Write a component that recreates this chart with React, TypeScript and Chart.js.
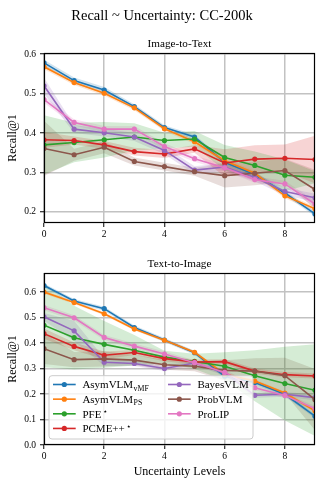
import React, { useEffect, useRef } from "react";
import { Chart, registerables } from "chart.js";

Chart.register(...registerables);

// ---------------- data ----------------
const levels = [0, 1, 2, 3, 4, 5, 6, 7, 8, 9];
const xTickValues = [0, 2, 4, 6, 8];
const i2tYTicks = [0.2, 0.3, 0.4, 0.5, 0.6];
const t2iYTicks = [0, 0.1, 0.2, 0.3, 0.4, 0.5, 0.6];

const mainTitle = "Recall ~ Uncertainty: CC-200k";
const i2tTitle = "Image-to-Text";
const t2iTitle = "Text-to-Image";
const yLabel = "Recall@1";
const xLabel = "Uncertainty Levels";

const legendMain = ["AsymVLM", "AsymVLM", "PFE", "PCME++", "BayesVLM", "ProbVLM", "ProLIP"];
const legendSub = ["vMF", "PS", "", "", "", "", ""];
const legendSup = ["", "", "\u22C6", "\u22C6", "", "", ""];
const colors = ["#1f77b4", "#ff7f0e", "#2ca02c", "#d62728", "#9467bd", "#8c564b", "#e377c2"];

// Image-to-Text means
const i2tAsymVmf = [0.578, 0.533, 0.509, 0.467, 0.414, 0.39, 0.326, 0.295, 0.248, 0.195];
const i2tAsymPs = [0.568, 0.528, 0.501, 0.464, 0.411, 0.378, 0.33, 0.298, 0.241, 0.208];
const i2tPfe = [0.37, 0.376, 0.383, 0.39, 0.381, 0.385, 0.338, 0.318, 0.293, 0.288];
const i2tPcme = [0.383, 0.381, 0.37, 0.353, 0.347, 0.36, 0.324, 0.334, 0.336, 0.333];
const i2tBayes = [0.52, 0.41, 0.401, 0.39, 0.356, 0.306, 0.314, 0.288, 0.252, 0.236];
const i2tProb = [0.361, 0.345, 0.364, 0.328, 0.315, 0.302, 0.292, 0.298, 0.305, 0.257];
const i2tProlip = [0.485, 0.427, 0.41, 0.41, 0.366, 0.335, 0.312, 0.282, 0.271, 0.22];
// Image-to-Text spreads
const i2tAsymVmfStd = [0.008, 0.008, 0.008, 0.006, 0.006, 0.006, 0.006, 0.006, 0.006, 0.006];
const i2tAsymPsStd = [0.006, 0.006, 0.006, 0.006, 0.006, 0.006, 0.006, 0.006, 0.006, 0.006];
const i2tPfeStd = [0.075, 0.05, 0.045, 0.035, 0.02, 0.02, 0.032, 0.035, 0.04, 0.015];
const i2tPcmeStd = [0.02, 0.01, 0.01, 0.01, 0.01, 0.01, 0.035, 0.035, 0.035, 0.06];
const i2tBayesStd = [0.02, 0.01, 0.01, 0.01, 0.01, 0.01, 0.01, 0.01, 0.01, 0.01];
const i2tProbStd = [0.07, 0.015, 0.015, 0.01, 0.01, 0.01, 0.03, 0.03, 0.03, 0.05];
const i2tProlipStd = [0.008, 0.008, 0.008, 0.008, 0.008, 0.008, 0.008, 0.008, 0.008, 0.008];

// Text-to-Image means
const t2iAsymVmf = [0.626, 0.565, 0.535, 0.461, 0.412, 0.362, 0.27, 0.245, 0.199, 0.113];
const t2iAsymPs = [0.6, 0.559, 0.515, 0.455, 0.411, 0.364, 0.278, 0.251, 0.204, 0.134];
const t2iPfe = [0.47, 0.421, 0.395, 0.372, 0.345, 0.328, 0.309, 0.272, 0.241, 0.215];
const t2iPcme = [0.437, 0.387, 0.352, 0.363, 0.339, 0.326, 0.327, 0.29, 0.276, 0.271];
const t2iBayes = [0.503, 0.448, 0.325, 0.32, 0.3, 0.322, 0.283, 0.195, 0.199, 0.186];
const t2iProb = [0.378, 0.335, 0.338, 0.333, 0.315, 0.309, 0.293, 0.29, 0.272, 0.178];
const t2iProlip = [0.539, 0.499, 0.422, 0.388, 0.357, 0.323, 0.285, 0.225, 0.194, 0.143];
// Text-to-Image spreads
const t2iAsymVmfStd = [0.008, 0.008, 0.008, 0.008, 0.008, 0.008, 0.008, 0.008, 0.008, 0.008];
const t2iAsymPsStd = [0.006, 0.006, 0.006, 0.006, 0.006, 0.006, 0.006, 0.006, 0.006, 0.006];
const t2iPfeStd = [0.165, 0.125, 0.092, 0.06, 0.025, 0.03, 0.055, 0.1, 0.145, 0.18];
const t2iPcmeStd = [0.02, 0.015, 0.015, 0.01, 0.01, 0.01, 0.01, 0.01, 0.01, 0.01];
const t2iBayesStd = [0.015, 0.04, 0.015, 0.01, 0.01, 0.01, 0.01, 0.01, 0.01, 0.01];
const t2iProbStd = [0.06, 0.03, 0.03, 0.02, 0.02, 0.02, 0.04, 0.05, 0.07, 0.12];
const t2iProlipStd = [0.01, 0.01, 0.01, 0.01, 0.01, 0.01, 0.01, 0.01, 0.01, 0.01];

const i2tMeans = [i2tAsymVmf, i2tAsymPs, i2tPfe, i2tPcme, i2tBayes, i2tProb, i2tProlip];
const i2tStds = [i2tAsymVmfStd, i2tAsymPsStd, i2tPfeStd, i2tPcmeStd, i2tBayesStd, i2tProbStd, i2tProlipStd];
const t2iMeans = [t2iAsymVmf, t2iAsymPs, t2iPfe, t2iPcme, t2iBayes, t2iProb, t2iProlip];
const t2iStds = [t2iAsymVmfStd, t2iAsymPsStd, t2iPfeStd, t2iPcmeStd, t2iBayesStd, t2iProbStd, t2iProlipStd];

// ---------------- helpers ----------------
const FONT = '"Liberation Serif", "Times New Roman", serif';
const GRID = "#c2c2c2";

function rgba(hex: string, a: number) {
  const n = parseInt(hex.slice(1), 16);
  return `rgba(${(n >> 16) & 255},${(n >> 8) & 255},${n & 255},${a})`;
}

function buildDatasets(means: number[][], stds: number[][]) {
  const ds: any[] = [];
  means.forEach((m, i) => {
    ds.push({
      data: levels.map((x, j) => ({ x, y: m[j] - stds[i][j] })),
      borderWidth: 0, pointRadius: 0, borderColor: "transparent",
      backgroundColor: "transparent", fill: false, order: 100,
    });
    ds.push({
      data: levels.map((x, j) => ({ x, y: m[j] + stds[i][j] })),
      borderWidth: 0, pointRadius: 0, borderColor: "transparent",
      backgroundColor: rgba(colors[i], 0.2), fill: "-1", order: 100,
    });
  });
  means.forEach((m, i) => {
    ds.push({
      data: levels.map((x, j) => ({ x, y: m[j] })),
      borderColor: colors[i], backgroundColor: colors[i],
      borderWidth: 1.6, pointRadius: 2.6, pointBorderWidth: 0,
      pointHoverRadius: 2.6, fill: false, order: 20 - i,
    });
  });
  return ds;
}

const framePlugin = {
  id: "frame",
  afterDatasetsDraw(chart: any) {
    const { ctx, chartArea: ca } = chart;
    ctx.save();
    ctx.strokeStyle = "#000";
    ctx.lineWidth = 1.2;
    const l = Math.round(ca.left) + 0.5, t = Math.round(ca.top) + 0.5;
    const r = Math.round(ca.right) - 0.5, b = Math.round(ca.bottom) - 0.5;
    ctx.strokeRect(l, t, r - l, b - t);
    ctx.restore();
  },
};

function titlePlugin(sub: string, main?: string) {
  return {
    id: "titles",
    afterDraw(chart: any) {
      const { ctx, chartArea: ca, width } = chart;
      ctx.save();
      ctx.fillStyle = "#000";
      ctx.textAlign = "center";
      ctx.textBaseline = "alphabetic";
      if (main) {
        ctx.font = `14.5px ${FONT}`;
        ctx.fillText(main, width / 2, 19.5);
      }
      ctx.font = `11.2px ${FONT}`;
      ctx.fillText(sub, (ca.left + ca.right) / 2, ca.top - 6.2);
      ctx.restore();
    },
  };
}

const legendPlugin = {
  id: "legendBox",
  afterDraw(chart: any) {
    const { ctx, chartArea: ca } = chart;
    const x0 = ca.left + 5, w = 204, h = 63.3;
    const y0 = ca.bottom - 6 - h;
    ctx.save();
    const r = 3;
    ctx.beginPath();
    ctx.moveTo(x0 + r, y0);
    ctx.lineTo(x0 + w - r, y0);
    ctx.arcTo(x0 + w, y0, x0 + w, y0 + r, r);
    ctx.lineTo(x0 + w, y0 + h - r);
    ctx.arcTo(x0 + w, y0 + h, x0 + w - r, y0 + h, r);
    ctx.lineTo(x0 + r, y0 + h);
    ctx.arcTo(x0, y0 + h, x0, y0 + h - r, r);
    ctx.lineTo(x0, y0 + r);
    ctx.arcTo(x0, y0, x0 + r, y0, r);
    ctx.closePath();
    ctx.fillStyle = "rgba(255,255,255,0.8)";
    ctx.fill();
    ctx.strokeStyle = "#cccccc";
    ctx.lineWidth = 1;
    ctx.stroke();

    legendMain.forEach((label, i) => {
      const col = i < 4 ? 0 : 1;
      const row = i < 4 ? i : i - 4;
      const cx = x0 + (col === 0 ? 0 : 115);
      const cy = y0 + 8.8 + row * 14.65;
      ctx.strokeStyle = colors[i];
      ctx.lineWidth = 1.6;
      ctx.beginPath();
      ctx.moveTo(cx + 4, cy);
      ctx.lineTo(cx + 26.7, cy);
      ctx.stroke();
      ctx.fillStyle = colors[i];
      ctx.beginPath();
      ctx.arc(cx + 15.3, cy, 2.6, 0, Math.PI * 2);
      ctx.fill();
      ctx.fillStyle = "#000";
      ctx.textAlign = "left";
      ctx.textBaseline = "alphabetic";
      ctx.font = `11px ${FONT}`;
      const tx = cx + 33.4;
      const base = cy + 3.8;
      ctx.fillText(label, tx, base);
      const mw = ctx.measureText(label).width;
      if (legendSub[i]) {
        ctx.font = `7.8px ${FONT}`;
        ctx.fillText(legendSub[i], tx + mw + 0.5, base + 2.5);
      }
      if (legendSup[i]) {
        ctx.font = `8px "DejaVu Sans", sans-serif`;
        ctx.fillText(legendSup[i], tx + mw + 1.5, base - 3.5);
      }
    });
    ctx.restore();
  },
};

function makeOptions(yMin: number, yMax: number, yTicks: number[], xHeight: number, padTop: number, showXTitle: boolean) {
  return {
    animation: false,
    responsive: false,
    devicePixelRatio: 1,
    layout: { padding: { left: 0, right: 9, top: padTop, bottom: 0 } },
    plugins: {
      legend: { display: false },
      tooltip: { enabled: false },
      filler: { drawTime: "beforeDatasetsDraw" },
    },
    scales: {
      x: {
        type: "linear",
        min: 0,
        max: 9,
        afterBuildTicks: (s: any) => { s.ticks = xTickValues.map((v) => ({ value: v })); },
        afterFit: (s: any) => { s.height = xHeight; },
        grid: { color: GRID, lineWidth: 1.5, tickColor: "#000", tickWidth: 1, tickLength: 4, drawTicks: true },
        border: { display: false },
        ticks: {
          font: { family: FONT, size: 9.5 }, color: "#000", padding: 2,
          maxRotation: 0, autoSkip: false, callback: (v: any) => String(v),
        },
        title: {
          display: showXTitle, text: xLabel, color: "#000",
          font: { family: FONT, size: 12 }, padding: { top: 0, bottom: 7 },
        },
      },
      y: {
        type: "linear",
        min: yMin,
        max: yMax,
        afterBuildTicks: (s: any) => { s.ticks = yTicks.map((v) => ({ value: v })); },
        afterFit: (s: any) => { s.width = 44; },
        grid: { color: GRID, lineWidth: 1.5, tickColor: "#000", tickWidth: 1, tickLength: 4, drawTicks: true },
        border: { display: false },
        ticks: {
          font: { family: FONT, size: 9.5 }, color: "#000", padding: 4,
          autoSkip: false, callback: (v: any) => Number(v).toFixed(1),
        },
        title: {
          display: true, text: yLabel, color: "#000",
          font: { family: FONT, size: 12 }, padding: { top: 6, bottom: 0 },
        },
      },
    },
  };
}

export default function App() {
  const topRef = useRef<HTMLCanvasElement | null>(null);
  const botRef = useRef<HTMLCanvasElement | null>(null);

  useEffect(() => {
    const top = new Chart(topRef.current as HTMLCanvasElement, {
      type: "line",
      data: { datasets: buildDatasets(i2tMeans, i2tStds) },
      options: makeOptions(0.172, 0.603, i2tYTicks, 20, 53, false) as any,
      plugins: [framePlugin, titlePlugin(i2tTitle, mainTitle)],
    });
    const bot = new Chart(botRef.current as HTMLCanvasElement, {
      type: "line",
      data: { datasets: buildDatasets(t2iMeans, t2iStds) },
      options: makeOptions(0, 0.675, t2iYTicks, 41, 30, true) as any,
      plugins: [framePlugin, titlePlugin(t2iTitle), legendPlugin],
    });
    return () => {
      top.destroy();
      bot.destroy();
    };
  }, []);

  return (
    <div style={{ position: "absolute", left: 0, top: 0, width: 324, height: 486, background: "#fff" }}>
      <canvas ref={topRef} width={324} height={243} style={{ position: "absolute", left: 0, top: 0, width: 324, height: 243 }} />
      <canvas ref={botRef} width={324} height={243} style={{ position: "absolute", left: 0, top: 243, width: 324, height: 243 }} />
    </div>
  );
}
